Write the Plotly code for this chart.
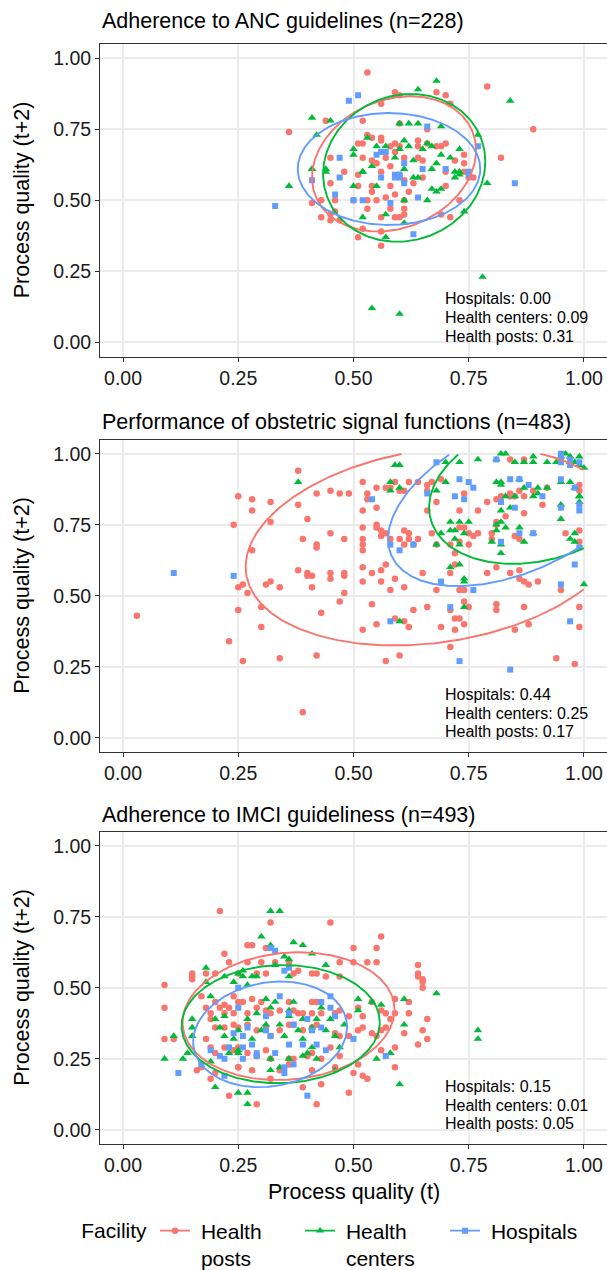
import numpy as np
import plotly.graph_objects as go

GROUPS = ["Health posts", "Health centers", "Hospitals"]
LEGEND_TEXT = ["&nbsp;Health<br>&nbsp;posts", "&nbsp;Health<br>&nbsp;centers", "&nbsp;Hospitals"]
COLORS = ["#F8766D", "#00BA38", "#619CFF"]
SYMBOLS = ["circle", "triangle-up", "square"]
MSIZE = [6.5, 7.5, 6]

TITLES = ["Adherence to ANC guidelines (n=228)",
          "Performance of obstetric signal functions (n=483)",
          "Adherence to IMCI guideliness (n=493)"]
TICKS = [0, 0.25, 0.5, 0.75, 1.0]
TICK_TEXT = ["0.00", "0.25", "0.50", "0.75", "1.00"]

# ---------------- Panel 1: ANC ----------------
anc_posts = [(0.53,0.95),(0.79,0.90),(0.59,0.88),(0.60,0.87),(0.68,0.88),(0.70,0.87),(0.71,0.84),(0.56,0.84),
             (0.89,0.75),(0.36,0.74),(0.44,0.78),(0.52,0.78),(0.82,0.65),(0.60,0.77),(0.66,0.75),(0.51,0.70),
             (0.52,0.70),(0.53,0.73),(0.54,0.72),(0.56,0.71),(0.56,0.72),(0.58,0.69),(0.59,0.70),(0.60,0.69),
             (0.64,0.71),(0.64,0.69),(0.66,0.70),(0.68,0.69),(0.70,0.70),(0.69,0.69),(0.74,0.66),(0.52,0.65),
             (0.54,0.64),(0.55,0.63),(0.58,0.62),(0.61,0.65),(0.64,0.65),(0.65,0.64),(0.72,0.64),(0.74,0.63),
             (0.48,0.60),(0.57,0.65),(0.60,0.59),(0.45,0.65),(0.51,0.59),(0.59,0.67),
             (0.45,0.56),(0.51,0.55),(0.54,0.55),(0.56,0.60),(0.58,0.55),(0.61,0.57),(0.63,0.56),(0.65,0.58),
             (0.70,0.60),(0.70,0.55),(0.74,0.60),(0.76,0.58),(0.41,0.49),(0.43,0.50),(0.46,0.50),(0.50,0.50),
             (0.53,0.50),(0.55,0.50),(0.57,0.51),(0.59,0.52),(0.61,0.50),(0.62,0.53),(0.43,0.44),(0.45,0.43),
             (0.47,0.43),(0.45,0.45),(0.46,0.46),(0.52,0.40),(0.51,0.37),(0.56,0.39),(0.56,0.34),(0.56,0.44),
             (0.59,0.44),(0.60,0.44),(0.61,0.45),(0.61,0.47),(0.69,0.45),(0.71,0.44),(0.73,0.50),(0.75,0.58),
             (0.54,0.53),(0.53,0.47),(0.58,0.47)]
anc_centers = [(0.68,0.92),(0.64,0.89),(0.84,0.85),(0.41,0.79),(0.45,0.78),(0.42,0.73),(0.60,0.77),(0.62,0.77),
               (0.64,0.77),(0.69,0.76),(0.77,0.73),(0.50,0.66),(0.50,0.68),(0.53,0.72),(0.55,0.69),(0.57,0.69),
               (0.61,0.71),(0.60,0.68),(0.62,0.69),(0.65,0.68),(0.66,0.70),(0.67,0.69),(0.69,0.66),(0.71,0.65),
               (0.73,0.68),(0.59,0.65),(0.63,0.64),(0.68,0.63),(0.72,0.60),(0.73,0.59),(0.41,0.61),(0.44,0.60),
               (0.52,0.60),(0.54,0.62),(0.36,0.55),(0.41,0.61),(0.44,0.61),(0.52,0.60),(0.50,0.55),(0.55,0.55),
               (0.61,0.61),(0.63,0.58),(0.64,0.58),(0.67,0.54),(0.68,0.53),(0.69,0.54),(0.67,0.61),(0.72,0.58),
               (0.73,0.60),(0.79,0.56),(0.52,0.44),(0.57,0.45),(0.61,0.42),(0.61,0.50),(0.66,0.50),(0.74,0.46),
               (0.57,0.37),(0.54,0.12),(0.60,0.10),(0.78,0.23)]
anc_hosp = [(0.49,0.85),(0.51,0.87),(0.47,0.65),(0.55,0.66),(0.56,0.67),(0.57,0.67),(0.66,0.76),(0.61,0.63),
            (0.65,0.61),(0.70,0.61),(0.75,0.59),(0.77,0.69),(0.59,0.59),(0.60,0.58),(0.33,0.48),(0.41,0.57),
            (0.46,0.52),(0.47,0.58),(0.50,0.50),(0.52,0.50),(0.56,0.58),(0.58,0.49),(0.59,0.58),(0.60,0.59),
            (0.61,0.56),(0.64,0.51),(0.63,0.38),(0.85,0.56),(0.75,0.60)]

# ---------------- Panel 2: obstetric signal functions ----------------
obs_posts = [(0.38,0.94),(0.25,0.85),(0.28,0.84),(0.28,0.80),(0.32,0.83),(0.24,0.75),(0.28,0.66),(0.32,0.76),
             (0.38,0.82),(0.42,0.86),(0.45,0.87),(0.47,0.86),(0.49,0.86),(0.52,0.90),(0.52,0.80),(0.53,0.84),
             (0.53,0.86),(0.55,0.88),(0.55,0.81),(0.58,0.88),(0.59,0.90),(0.60,0.87),(0.61,0.87),(0.57,0.88),
             (0.62,0.90),(0.64,0.90),(0.40,0.77),(0.39,0.70),(0.42,0.68),(0.42,0.67),(0.45,0.72),(0.48,0.70),
             (0.52,0.74),(0.52,0.70),(0.52,0.68),(0.52,0.66),(0.55,0.75),(0.55,0.74),(0.56,0.73),(0.56,0.71),
             (0.57,0.72),(0.58,0.70),(0.60,0.70),(0.61,0.73),(0.62,0.72),(0.62,0.70),(0.61,0.68),(0.63,0.68),
             (0.64,0.70),(0.66,0.87),(0.66,0.89),(0.67,0.90),(0.66,0.80),(0.68,0.83),(0.69,0.91),(0.73,0.80),
             (0.74,0.86),(0.77,0.80),(0.73,0.74),(0.74,0.74),(0.75,0.72),(0.76,0.71),(0.77,0.72),(0.67,0.72),
             (0.68,0.68),(0.71,0.68),(0.72,0.65),(0.73,0.69),(0.75,0.68),(0.80,0.72),(0.81,0.75),(0.81,0.76),
             (0.82,0.85),(0.84,0.86),(0.84,0.85),(0.85,0.85),(0.86,0.87),(0.87,0.85),(0.89,0.87),(0.92,0.88),
             (0.84,0.98),(0.87,0.98),(0.91,0.82),(0.96,0.72),(0.99,0.73),(0.99,0.89),(0.99,0.87),(0.99,0.69),
             (0.81,0.84),(0.83,0.78),(0.87,0.79),(0.85,0.71),(0.86,0.70),(0.79,0.83),(0.80,0.70),(0.72,0.61),
             (0.71,0.58),(0.79,0.58),(0.81,0.60),(0.86,0.59),(0.65,0.58),(0.38,0.59),(0.40,0.58),(0.41,0.57),
             (0.45,0.58),(0.48,0.58),(0.52,0.60),(0.54,0.58),(0.56,0.59),(0.57,0.61),
             (0.03,0.43),(0.23,0.34),(0.26,0.27),(0.25,0.45),(0.25,0.53),(0.26,0.54),(0.27,0.51),(0.30,0.46),
             (0.30,0.39),(0.31,0.54),(0.32,0.55),(0.34,0.53),(0.34,0.28),(0.40,0.57),(0.41,0.53),(0.42,0.29),
             (0.43,0.44),(0.45,0.56),(0.48,0.57),(0.48,0.51),(0.47,0.48),(0.39,0.09),(0.52,0.55),(0.52,0.38),
             (0.54,0.47),(0.55,0.40),(0.56,0.55),(0.57,0.27),(0.58,0.52),(0.59,0.42),(0.59,0.56),(0.60,0.29),
             (0.61,0.53),(0.61,0.41),(0.62,0.39),(0.63,0.45),(0.66,0.46),(0.69,0.39),(0.68,0.52),(0.71,0.32),
             (0.71,0.45),(0.72,0.42),(0.72,0.38),(0.73,0.42),(0.74,0.40),(0.74,0.52),(0.74,0.48),(0.75,0.46),
             (0.81,0.45),(0.81,0.47),(0.84,0.58),(0.85,0.38),(0.86,0.56),(0.87,0.55),(0.87,0.46),(0.88,0.54),
             (0.88,0.40),(0.90,0.55),(0.94,0.28),(0.95,0.52),(0.98,0.26),(0.99,0.46),(0.99,0.39),(0.73,0.52)]
obs_centers = [(0.38,0.90),(0.58,0.90),(0.58,0.87),(0.59,0.96),(0.60,0.96),(0.60,0.88),(0.68,0.87),(0.70,0.90),
               (0.70,0.97),(0.73,0.97),(0.77,0.98),(0.81,0.98),(0.82,1.00),(0.83,1.00),(0.85,0.97),(0.87,0.97),
               (0.89,0.99),(0.89,0.97),(0.92,0.97),(0.94,0.97),(0.95,0.99),(0.96,1.00),(0.97,0.99),(0.97,0.97),
               (0.98,0.97),(0.99,0.99),(0.99,0.96),(1.00,0.95),(0.81,0.90),(0.82,0.89),(0.82,0.90),(0.86,0.91),
               (0.87,0.88),(0.90,0.88),(0.92,0.88),(0.95,0.90),(0.97,0.90),(0.98,0.88),(0.99,0.85),(0.99,0.85),
               (0.99,0.83),(0.83,0.85),(0.84,0.81),(0.85,0.85),(0.89,0.85),(0.90,0.86),(0.82,0.80),(0.82,0.76),
               (0.83,0.74),(0.86,0.74),(0.81,0.75),(0.81,0.73),(0.71,0.76),(0.73,0.76),(0.75,0.76),(0.71,0.73),
               (0.72,0.73),(0.72,0.70),(0.73,0.68),(0.74,0.72),(0.80,0.69),(0.82,0.65),(0.82,0.68),(0.87,0.69),
               (0.89,0.72),(0.95,0.77),(0.97,0.70),(0.98,0.69),(0.98,0.72),(0.95,0.82),(0.68,0.68),(0.69,0.72),
               (0.71,0.60),(0.73,0.61),(0.74,0.56),(0.60,0.41),(0.74,0.55),(0.74,0.46),(1.00,0.54)]
obs_hosp = [(0.11,0.58),(0.24,0.57),(0.54,0.84),(0.58,0.68),(0.60,0.66),(0.63,0.68),(0.66,0.86),(0.68,0.97),
            (0.72,0.85),(0.74,0.84),(0.73,0.91),(0.75,0.90),(0.76,0.88),(0.81,0.98),(0.82,0.83),(0.82,0.69),
            (0.84,0.91),(0.85,0.81),(0.86,0.91),(0.86,0.72),(0.88,0.89),(0.91,0.85),(0.89,0.72),(0.95,1.00),
            (0.95,0.99),(0.97,0.98),(0.95,0.97),(0.95,0.91),(0.97,0.96),(0.99,0.97),(0.99,0.80),(0.98,0.88),
            (0.95,0.81),(0.99,0.82),(0.98,0.61),(0.99,0.67),(0.58,0.41),(0.69,0.55),(0.71,0.46),(0.73,0.27),
            (0.76,0.52),(0.84,0.24),(0.95,0.54),(0.97,0.41)]

# ---------------- Panel 3: IMCI ----------------
imci_posts = [(0.21,0.77),(0.32,0.73),(0.45,0.73),(0.56,0.68),(0.27,0.65),(0.28,0.65),(0.22,0.62),(0.23,0.59),
              (0.27,0.59),(0.30,0.59),(0.31,0.64),(0.33,0.59),(0.36,0.59),(0.38,0.56),(0.37,0.55),(0.50,0.64),
              (0.55,0.64),(0.50,0.59),(0.53,0.59),(0.55,0.59),(0.47,0.59),(0.64,0.58),(0.64,0.55),(0.15,0.55),
              (0.18,0.55),(0.20,0.55),(0.25,0.55),(0.29,0.55),(0.31,0.55),(0.41,0.55),(0.42,0.55),(0.44,0.54),
              (0.47,0.54),(0.65,0.53),
              (0.09,0.51),(0.09,0.43),(0.09,0.32),(0.11,0.32),(0.15,0.54),(0.15,0.53),(0.17,0.47),(0.18,0.43),
              (0.19,0.41),(0.20,0.45),(0.21,0.43),(0.22,0.41),(0.22,0.44),(0.23,0.43),(0.24,0.47),(0.24,0.41),
              (0.25,0.45),(0.26,0.45),(0.27,0.41),(0.28,0.46),(0.29,0.43),(0.30,0.45),(0.31,0.42),(0.32,0.41),
              (0.34,0.42),(0.36,0.45),(0.37,0.42),(0.38,0.41),(0.39,0.41),(0.41,0.41),(0.41,0.45),(0.42,0.45),
              (0.43,0.41),(0.46,0.41),(0.47,0.42),(0.49,0.40),(0.51,0.43),(0.52,0.40),(0.54,0.45),(0.56,0.42),
              (0.57,0.41),(0.58,0.39),(0.59,0.41),(0.59,0.46),(0.61,0.34),(0.62,0.41),(0.62,0.45),(0.65,0.50),
              (0.65,0.52),(0.64,0.54),(0.66,0.39),(0.66,0.32),(0.64,0.30),(0.19,0.39),(0.20,0.36),(0.22,0.36),
              (0.24,0.37),(0.25,0.36),(0.27,0.37),(0.29,0.35),(0.31,0.36),(0.32,0.33),(0.34,0.35),(0.36,0.37),
              (0.37,0.37),(0.39,0.35),(0.41,0.36),(0.42,0.37),(0.46,0.34),(0.47,0.33),(0.49,0.33),(0.51,0.35),
              (0.52,0.36),(0.54,0.34),(0.56,0.35),(0.57,0.36),(0.59,0.29),(0.18,0.32),(0.19,0.29),(0.20,0.27),
              (0.22,0.29),(0.24,0.28),(0.25,0.29),(0.27,0.27),(0.29,0.26),(0.31,0.28),(0.32,0.25),(0.36,0.25),
              (0.37,0.25),(0.40,0.26),(0.41,0.27),(0.43,0.25),(0.45,0.29),(0.47,0.26),(0.51,0.23),(0.52,0.19),
              (0.53,0.18),(0.59,0.22),(0.19,0.18),(0.20,0.20),(0.23,0.12),(0.25,0.22),(0.25,0.22),(0.28,0.21),
              (0.29,0.09),(0.32,0.18),(0.34,0.21),(0.36,0.23),(0.39,0.15),(0.41,0.21),(0.43,0.16),(0.42,0.09),
              (0.46,0.22),(0.49,0.13),(0.50,0.20),(0.16,0.21),(0.17,0.22),(0.55,0.33),(0.56,0.28),(0.65,0.35)]
imci_centers = [(0.09,0.25),(0.11,0.33),(0.13,0.25),(0.14,0.27),(0.15,0.39),(0.15,0.36),(0.18,0.52),(0.19,0.47),
                (0.20,0.39),(0.21,0.36),(0.22,0.33),(0.23,0.27),(0.25,0.28),(0.25,0.35),(0.27,0.51),(0.27,0.39),
                (0.28,0.32),(0.29,0.41),(0.30,0.35),(0.31,0.46),(0.31,0.37),(0.32,0.43),(0.33,0.45),(0.34,0.37),
                (0.35,0.33),(0.36,0.42),(0.36,0.40),(0.37,0.45),(0.38,0.35),(0.39,0.32),(0.40,0.27),(0.41,0.36),
                (0.41,0.29),(0.42,0.39),(0.43,0.43),(0.44,0.35),(0.45,0.39),(0.46,0.33),(0.46,0.21),(0.47,0.29),
                (0.48,0.37),(0.51,0.46),(0.51,0.42),(0.54,0.45),(0.56,0.44),(0.55,0.25),(0.58,0.27),(0.61,0.37),
                (0.61,0.46),(0.68,0.48),(0.77,0.35),(0.77,0.32),(0.60,0.16),(0.20,0.15),(0.25,0.13),(0.27,0.09),
                (0.27,0.13),(0.32,0.21),(0.34,0.22),(0.36,0.25),(0.39,0.26),(0.42,0.25),(0.24,0.32),(0.22,0.40),
                (0.15,0.33),(0.19,0.24),(0.36,0.54),(0.29,0.54),(0.26,0.54),(0.25,0.27),(0.32,0.25),(0.39,0.39),
                (0.24,0.52),(0.32,0.77),(0.34,0.77),(0.30,0.68),(0.32,0.65),(0.37,0.66),(0.39,0.65),(0.35,0.61),
                (0.36,0.60),(0.41,0.62),(0.44,0.58),(0.33,0.58),(0.26,0.56),(0.25,0.55),(0.18,0.57),(0.22,0.54),
                (0.28,0.54)]
imci_hosp = [(0.12,0.20),(0.17,0.23),(0.19,0.28),(0.22,0.19),(0.21,0.26),(0.23,0.29),(0.25,0.50),(0.25,0.43),
             (0.26,0.25),(0.26,0.33),(0.27,0.36),(0.28,0.30),(0.29,0.26),(0.29,0.27),(0.31,0.40),(0.31,0.35),
             (0.33,0.27),(0.35,0.22),(0.35,0.20),(0.36,0.30),(0.37,0.37),(0.39,0.30),(0.40,0.39),(0.40,0.12),
             (0.41,0.35),(0.42,0.30),(0.43,0.45),(0.43,0.36),(0.44,0.28),(0.45,0.47),(0.45,0.43),(0.46,0.40),
             (0.50,0.32),(0.57,0.26),(0.34,0.47),(0.35,0.56),(0.36,0.41),(0.24,0.34),(0.26,0.29),(0.22,0.25),
             (0.32,0.33),(0.37,0.23),(0.32,0.64),(0.33,0.63),(0.36,0.57)]

# Ellipse summaries per group: (centre x, centre y, half-extent x, half-extent y, correlation)
anc_ellipses = [(0.588, 0.628, 0.178, 0.238, 0.20),
                (0.610, 0.614, 0.176, 0.260, 0.085),
                (0.577, 0.610, 0.198, 0.197, 0.0)]
obs_ellipses = [(0.676, 0.675, 0.410, 0.350, 0.21),
                (0.900, 0.870, 0.236, 0.258, 0.23),
                (0.855, 0.840, 0.280, 0.306, 0.46)]
imci_ellipses = [(0.359, 0.400, 0.230, 0.225, 0.10),
                 (0.342, 0.372, 0.215, 0.208, 0.03),
                 (0.319, 0.336, 0.167, 0.186, 0.14)]

anc_labels = ["Hospitals: 0.00", "Health centers: 0.09", "Health posts: 0.31"]
obs_labels = ["Hospitals: 0.44", "Health centers: 0.25", "Health posts: 0.17"]
imci_labels = ["Hospitals: 0.15", "Health centers: 0.01", "Health posts: 0.05"]
LABEL_Y = [0.153, 0.087, 0.021]

panels = [
    (TITLES[0], [anc_posts, anc_centers, anc_hosp], anc_ellipses, anc_labels),
    (TITLES[1], [obs_posts, obs_centers, obs_hosp], obs_ellipses, obs_labels),
    (TITLES[2], [imci_posts, imci_centers, imci_hosp], imci_ellipses, imci_labels),
]

FONT = "Liberation Sans, Arial, sans-serif"
W, H = 607, 1270
ML, MR, MT, MB = 100, 0, 44, 126
PH = H - MT - MB
# panel pixel spans (top, bottom)
spans = [(44, 356.5), (439.5, 752), (831.5, 1144)]
domains = [[1 - (b - MT) / PH, 1 - (t - MT) / PH] for t, b in spans]
title_px = [21, 422, 815]


def ellipse_path(cx, cy, ex, ey, rho, n=400):
    phi = np.linspace(0, 2 * np.pi, n)
    x = cx + ex * np.cos(phi)
    y = cy + ey * (rho * np.cos(phi) + np.sqrt(1 - rho ** 2) * np.sin(phi))
    out = (x < 0) | (x > 1) | (y < 0) | (y > 1)
    x = np.where(out, np.nan, x)
    y = np.where(out, np.nan, y)
    return [None if np.isnan(v) else float(v) for v in x], [None if np.isnan(v) else float(v) for v in y]


fig = go.Figure()
annotations = []
for i, (title, data, ells, labels) in enumerate(panels):
    k = "" if i == 0 else str(i + 1)
    xa, ya = "x" + k, "y" + k
    for g in range(3):
        pts = data[g]
        fig.add_trace(go.Scatter(
            x=[p[0] for p in pts], y=[p[1] for p in pts], mode="markers",
            marker=dict(color=COLORS[g], symbol=SYMBOLS[g], size=MSIZE[g], line=dict(width=0)),
            xaxis=xa, yaxis=ya, showlegend=False, hoverinfo="skip"))
    for g in range(3):
        ex_, ey_ = ellipse_path(*ells[g])
        fig.add_trace(go.Scatter(
            x=ex_, y=ey_, mode="lines", line=dict(color=COLORS[g], width=1.9),
            connectgaps=False, xaxis=xa, yaxis=ya, showlegend=False, hoverinfo="skip"))
    ax = dict(range=[-0.05, 1.05], tickvals=TICKS, ticktext=TICK_TEXT, showgrid=True,
              gridcolor="#EBEBEB", gridwidth=1.5, zeroline=False, showline=True, mirror=True,
              linecolor="#333333", linewidth=1, ticks="outside", ticklen=4, tickwidth=1,
              tickcolor="#333333", tickfont=dict(size=19.5, color="#1a1a1a", family=FONT))
    fig.update_layout(**{
        "xaxis" + k: dict(ax, anchor=ya, domain=[0, 1]),
        "yaxis" + k: dict(ax, anchor=xa, domain=domains[i]),
    })
    annotations.append(dict(text=title, xref="paper", yref="paper", x=0,
                            y=1 - (title_px[i] - MT) / PH, xanchor="left", yanchor="middle",
                            showarrow=False, font=dict(size=21.5, color="black", family=FONT)))
    annotations.append(dict(text="Process quality (t+2)", xref="paper", yref="paper",
                            x=(22 - ML) / (W - ML - MR), y=sum(domains[i]) / 2, textangle=-90,
                            xanchor="center", yanchor="middle", showarrow=False,
                            font=dict(size=21.5, color="black", family=FONT)))
    for j, lab in enumerate(labels):
        annotations.append(dict(text=lab, xref=xa, yref=ya, x=0.695, y=LABEL_Y[j],
                                xanchor="left", yanchor="middle", showarrow=False,
                                font=dict(size=16, color="black", family=FONT)))

annotations.append(dict(text="Process quality (t)", xref="paper", yref="paper", x=0.5,
                        y=(1144 - 1192) / PH, xanchor="center", yanchor="middle", showarrow=False,
                        font=dict(size=21.5, color="black", family=FONT)))

for g in range(3):
    fig.add_trace(go.Scatter(
        x=[None], y=[None], mode="lines+markers", name=LEGEND_TEXT[g],
        marker=dict(color=COLORS[g], symbol=SYMBOLS[g], size=MSIZE[g], line=dict(width=0)),
        line=dict(color=COLORS[g], width=1.8), showlegend=True, xaxis="x3", yaxis="y3"))

fig.update_layout(
    width=W, height=H, margin=dict(l=ML, r=MR, t=MT, b=MB, autoexpand=False),
    paper_bgcolor="white", plot_bgcolor="white",
    font=dict(family=FONT, color="black"),
    annotations=annotations,
    legend=dict(orientation="h", x=-0.041, xanchor="left", y=-0.0605, yanchor="top",
                title=dict(text="Facility", side="left", font=dict(size=21)),
                font=dict(size=21, family=FONT, color="black"), valign="top",
                entrywidth=100, entrywidthmode="pixels", itemwidth=30,
                bgcolor="rgba(0,0,0,0)"),
)

fig.write_html("out.html", config={"displayModeBar": False},
               post_script="document.body.style.margin='0';document.body.style.overflow='hidden';")
